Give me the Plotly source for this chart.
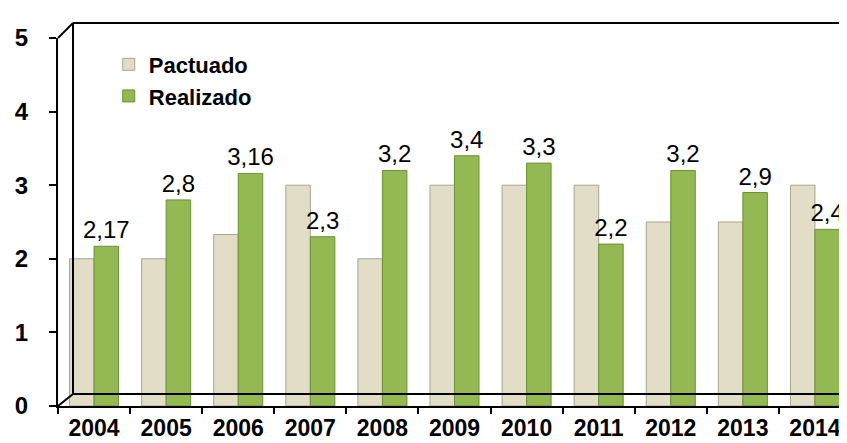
import plotly.graph_objects as go

years = ["2004", "2005", "2006", "2007", "2008", "2009", "2010", "2011", "2012", "2013", "2014"]
pactuado = [2, 2, 2.33, 3, 2, 3, 3, 3, 2.5, 2.5, 3]
realizado = [2.17, 2.8, 3.16, 2.3, 3.2, 3.4, 3.3, 2.2, 3.2, 2.9, 2.4]
realizado_labels = ["2,17", "2,8", "3,16", "2,3", "3,2", "3,4", "3,3", "2,2", "3,2", "2,9", "2,4"]

FONT = "Arial, 'Liberation Sans', sans-serif"

fig = go.Figure()
fig.add_trace(go.Bar(
    x=years, y=pactuado, name="<b>Pactuado</b>",
    marker=dict(color="#e2ddc6", line=dict(color="#a8a48e", width=1)),
))
fig.add_trace(go.Bar(
    x=years, y=realizado, name="<b>Realizado</b>",
    marker=dict(color="#93b953", line=dict(color="#6e8f35", width=1)),
    text=realizado_labels, textposition="outside", constraintext="none",
    textfont=dict(family=FONT, size=24, color="black"),
    cliponaxis=False,
))

W, H = 847, 443
L, R, T, B = 50, 4, 30, 45
pw, ph = W - L - R, H - T - B

def px(x):
    return (x - L) / pw

def py(y):
    return (H - B - y) / ph

line = dict(color="black", width=2)
shapes = [
    dict(type="line", xref="paper", yref="paper", x0=px(50), y0=py(30), x1=px(65), y1=py(15), line=line),
    dict(type="line", xref="paper", yref="paper", x0=px(65), y0=py(15), x1=px(847), y1=py(15), line=line),
    dict(type="line", xref="paper", yref="paper", x0=px(65), y0=py(15), x1=px(65), y1=py(386), line=line),
    dict(type="line", xref="paper", yref="paper", x0=px(65), y0=py(386), x1=px(847), y1=py(386), line=line),
    dict(type="line", xref="paper", yref="paper", x0=px(50), y0=py(398), x1=px(65), y1=py(386), line=line),
]

fig.update_layout(
    width=W, height=H,
    margin=dict(l=L, r=R, t=T, b=B),
    paper_bgcolor="white", plot_bgcolor="white",
    barmode="group", bargap=0.32, bargroupgap=0.0,
    separators=",.",
    font=dict(family=FONT, color="black"),
    showlegend=True,
    legend=dict(x=0.064, y=0.985, xanchor="left", yanchor="top",
                font=dict(family=FONT, size=22, color="black"),
                bgcolor="rgba(0,0,0,0)", tracegroupgap=0, itemwidth=30),
    xaxis=dict(type="category", tickson="boundaries", ticks="outside", ticklen=6,
               tickcolor="black", tickwidth=1.5, ticklabelstandoff=0,
               showline=True, linecolor="black", linewidth=2,
               tickfont=dict(family=FONT, size=23, color="black"),
               tickprefix="<b>", ticksuffix="</b>", showgrid=False),
    yaxis=dict(range=[0, 5], dtick=1, ticks="outside", ticklen=7,
               tickcolor="black", tickwidth=1.5, ticklabelstandoff=16,
               showline=True, linecolor="black", linewidth=2,
               tickfont=dict(family=FONT, size=24, color="black"),
               tickprefix="<b>", ticksuffix="</b>", showgrid=False, zeroline=False),
    shapes=shapes,
)

fig.write_html("out.html")
